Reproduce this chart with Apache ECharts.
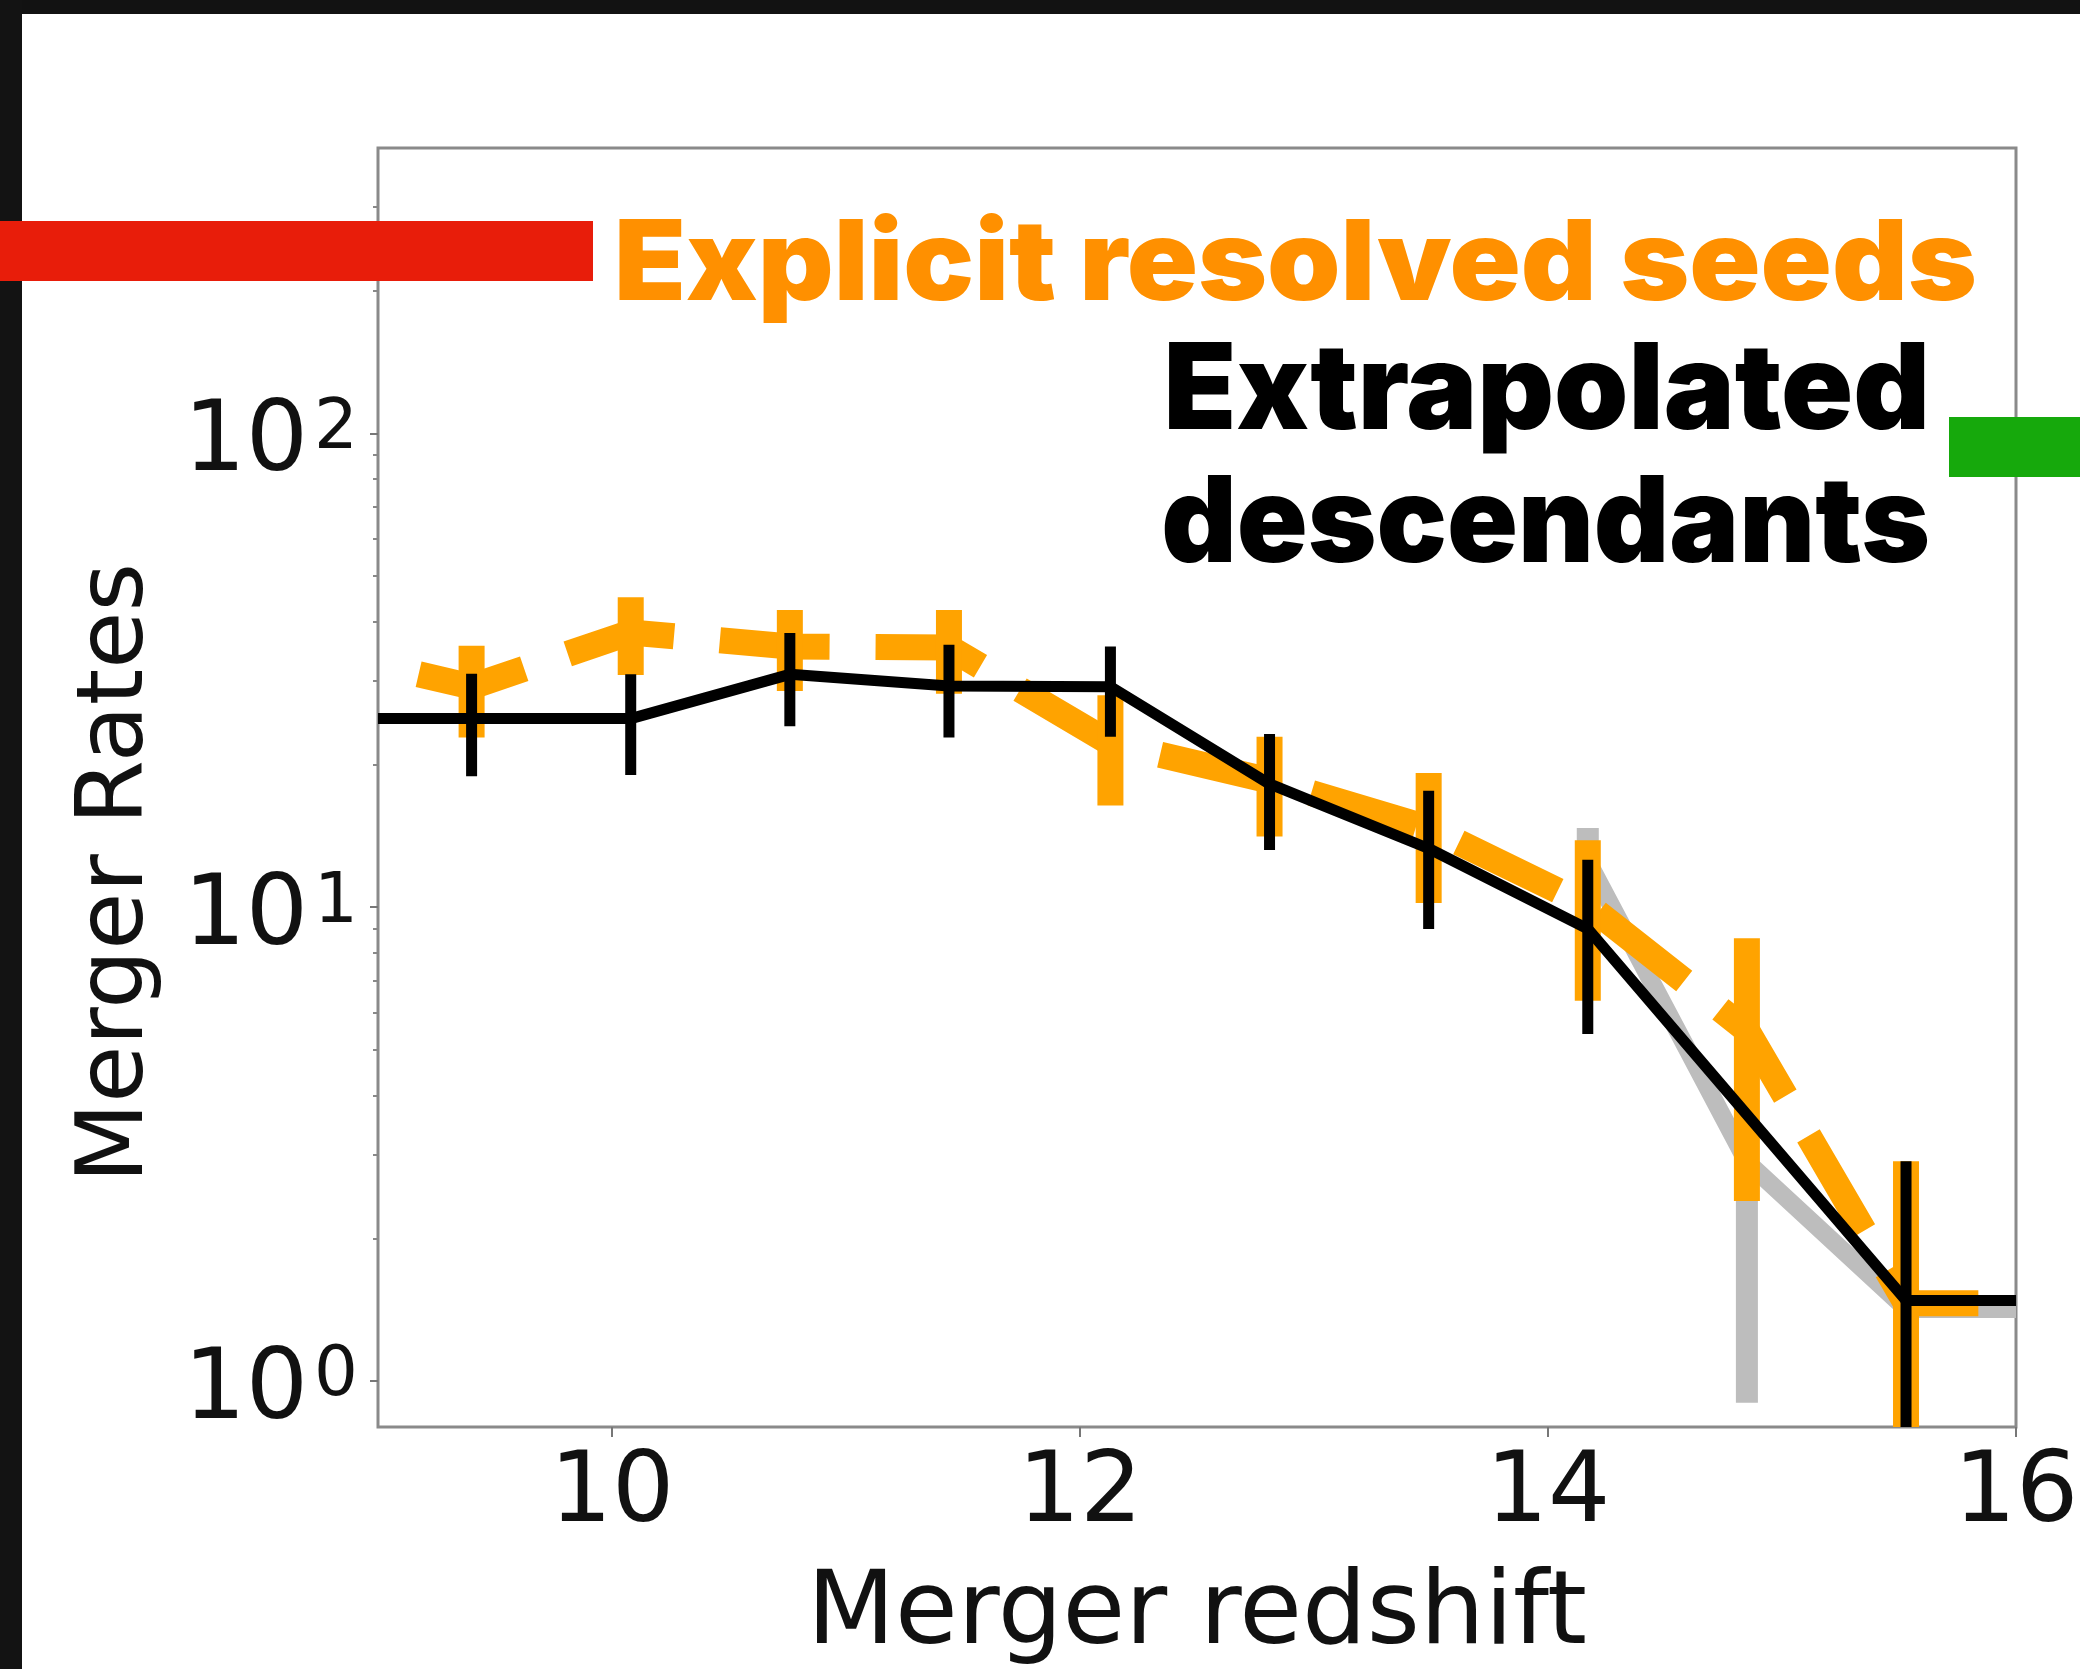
<!DOCTYPE html>
<html>
<head>
<meta charset="utf-8">
<script src="https://cdn.jsdelivr.net/npm/echarts@6/dist/echarts.min.js"></script>
<style>
  html, body { margin: 0; padding: 0; background: #fff; }
  #chart { width: 2080px; height: 1669px; }
</style>
</head>
<body>
<div id="chart"></div>
<script>
// Merger rates per redshift bin, log-scaled rate axis.
const xTicks = [10, 12, 14, 16];
const yTicks = [1, 10, 100];
const yMinorTicks = [2, 3, 4, 5, 6, 7, 8, 9, 20, 30, 40, 50, 60, 70, 80, 90, 200, 300];

// Extrapolated descendants (black, solid)
const descZ    = [8.72, 9.40, 10.08, 10.76, 11.44, 12.13, 12.81, 13.49, 14.17, 15.53, 16.21];
const descRate = [25.0, 25.0, 25.0, 31.0, 29.3, 29.2, 18.2, 13.3, 9.0, 1.48, 1.48];
const descErr  = [0, 6.1, 6.0, 6.9, 6.5, 6.3, 5.0, 4.3, 3.6, 1.43, 0];

// Explicit resolved seeds (orange, dashed)
const seedZ    = [8.72, 9.40, 10.08, 10.76, 11.44, 12.13, 12.81, 13.49, 14.17, 14.85, 15.53, 16.21];
const seedRate = [35.0, 29.2, 38.0, 35.5, 35.3, 22.2, 18.5, 14.7, 10.1, 5.5, 1.46, 1.46];
const seedErr  = [0, 6.4, 7.1, 6.9, 7.1, 5.8, 4.4, 4.5, 3.75, 3.1, 1.45, 0];

// Grey comparison run
const refZ    = [14.17, 14.85, 15.53, 16.21];
const refRate = [12.5, 2.9, 1.42, 1.42];
const refErr  = [2.2, 2.0, 0, 0];

const Y_MIN = 0.8;
const Y_MAX = 400;

const TICK_FONT = '"DejaVu Sans", sans-serif';
const HEAVY_FONT = 'Inter, Roboto, sans-serif';

// polyline drawn as one shape so dashes run continuously and the line is cut exactly at the frame
function curve(xs, ys, color, width, z, dash, offset) {
  return {
    type: 'custom',
    silent: true,
    clip: true,
    z: z,
    encode: { x: 0, y: 1 },
    data: xs.map((x, i) => [x, ys[i]]),
    renderItem: function (params, api) {
      if (params.dataIndex !== 0) return null;
      const pts = xs.map((x, i) => api.coord([x, ys[i]]));
      const style = { stroke: color, fill: null, lineWidth: width, lineCap: 'butt', lineJoin: 'round' };
      if (dash) { style.lineDash = dash; style.lineDashOffset = offset || 0; }
      return { type: 'polyline', shape: { points: pts }, style: style };
    }
  };
}

// vertical error bars, lower end held at the axis floor when it would go below it
function errorBars(xs, ys, es, color, width, z) {
  return {
    type: 'custom',
    silent: true,
    clip: true,
    z: z,
    encode: { x: 0, y: 1 },
    data: xs.map((x, i) => [x, ys[i], es[i]]),
    renderItem: function (params, api) {
      const e = api.value(2);
      if (!(e > 0)) return null;
      const x = api.value(0);
      const v = api.value(1);
      const top = api.coord([x, v + e]);
      const bot = api.coord([x, Math.max(v - e, Y_MIN)]);
      return {
        type: 'line',
        shape: { x1: top[0], y1: top[1], x2: bot[0], y2: bot[1] },
        style: { stroke: color, lineWidth: width, lineCap: 'butt' }
      };
    }
  };
}

function label(text, x, y, size, color, align, sx) {
  return {
    type: 'text', z: 102, x: x, y: y, scaleX: sx || 1,
    style: {
      text: text, font: '900 ' + size + 'px ' + HEAVY_FONT, fill: color,
      align: align, verticalAlign: 'middle', textAlign: align, textVerticalAlign: 'middle'
    }
  };
}

const chart = echarts.init(document.getElementById('chart'), null, { renderer: 'canvas', width: 2080, height: 1669 });

const option = {
  animation: false,
  backgroundColor: '#ffffff',
  grid: {
    left: 378, right: 64, top: 148, bottom: 242,
    show: true, borderColor: '#8a8a8a', borderWidth: 3, backgroundColor: '#ffffff',
    containLabel: false, outerBoundsMode: 'none'
  },
  xAxis: {
    type: 'value', min: 9, max: 16,
    axisLine: { show: false },
    splitLine: { show: false },
    axisTick: { show: true, customValues: xTicks, length: 10, lineStyle: { color: '#777', width: 2 } },
    axisLabel: { customValues: xTicks, fontSize: 98, fontFamily: TICK_FONT, color: '#111', margin: 20 },
    name: 'Merger redshift', nameLocation: 'middle', nameGap: 138,
    nameTextStyle: { fontSize: 102, fontFamily: TICK_FONT, color: '#111' }
  },
  yAxis: [
    {
      type: 'log', logBase: 10, min: Y_MIN, max: Y_MAX,
      axisLine: { show: false },
      splitLine: { show: false },
      axisTick: { show: true, customValues: yTicks, length: 8, lineStyle: { color: '#777', width: 2 } },
      axisLabel: {
        customValues: yTicks, margin: 20, color: '#111', padding: [22, 0, 0, 0],
        formatter: function (v) {
          const p = Math.round(Math.log10(v));
          return '{m|10}{s|' + p + '}';
        },
        rich: {
          m: { fontSize: 98, fontFamily: TICK_FONT, color: '#111', lineHeight: 98 },
          s: { fontSize: 69, fontFamily: TICK_FONT, color: '#111', verticalAlign: 'top', lineHeight: 42, padding: [0, 0, 0, 6] }
        }
      }
    },
    {
      type: 'log', logBase: 10, min: Y_MIN, max: Y_MAX, position: 'left',
      axisLine: { show: false },
      splitLine: { show: false },
      axisLabel: { show: false },
      axisTick: { show: true, customValues: yMinorTicks, length: 5, lineStyle: { color: '#888', width: 2 } }
    }
  ],
  series: [
    curve(refZ, refRate, '#bdbdbd', 18, 1),
    errorBars(refZ, refRate, refErr, '#bdbdbd', 22, 2),
    curve(seedZ, seedRate, '#ffa300', 26, 3, [110, 46], 47),
    errorBars(seedZ, seedRate, seedErr, '#ffa300', 26, 4),
    curve(descZ, descRate, '#000000', 11, 5),
    errorBars(descZ, descRate, descErr, '#000000', 11, 6)
  ],
  graphic: [
    { type: 'rect', z: 100, shape: { x: 0, y: 0, width: 2080, height: 14 }, style: { fill: '#121212' } },
    { type: 'rect', z: 100, shape: { x: 0, y: 0, width: 22, height: 1669 }, style: { fill: '#131313' } },
    { type: 'rect', z: 101, shape: { x: 0, y: 221, width: 593, height: 60 }, style: { fill: '#e81d0a' } },
    { type: 'rect', z: 101, shape: { x: 1949, y: 417, width: 131, height: 60 }, style: { fill: '#16a90c' } },
    {
      type: 'text', z: 102, x: 118, y: 873, rotation: Math.PI / 2,
      style: { text: 'Merger Rates', font: '93px "DejaVu Sans"', fill: '#111', align: 'center', verticalAlign: 'middle', textAlign: 'center', textVerticalAlign: 'middle' }
    },
    label('Explicit resolved seeds', 614, 266, 112, '#ff9000', 'left', 1.05),
    label('Extrapolated', 1930, 393, 119, '#000000', 'right'),
    label('descendants', 1930, 526, 119, '#000000', 'right', 0.983)
  ]
};

chart.setOption(option);
</script>
</body>
</html>
